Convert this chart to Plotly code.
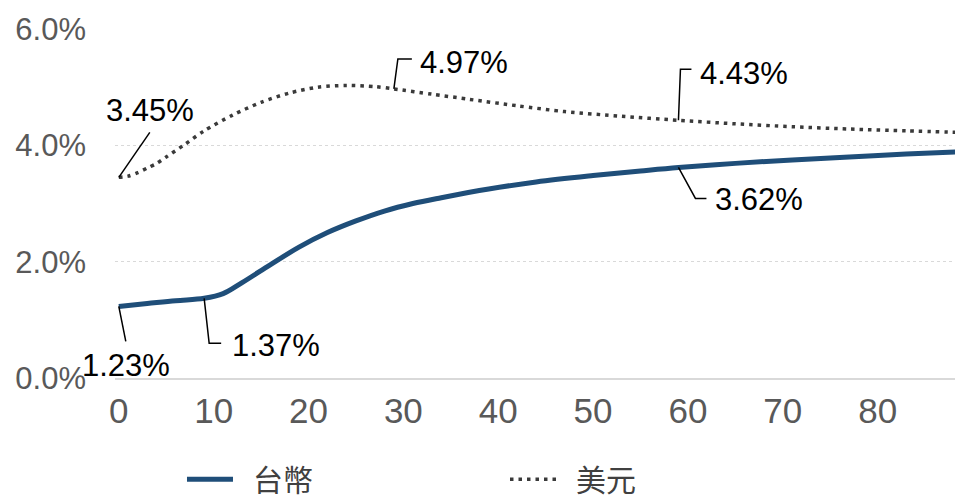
import plotly.graph_objects as go

# months / rates (%)
twd_x = [0, 3, 6, 9, 11, 13, 16, 19, 22, 25, 28, 31, 34, 39, 44, 50, 55, 59, 65, 71, 77, 83, 89]
twd_y = [1.23, 1.28, 1.33, 1.37, 1.45, 1.64, 1.95, 2.25, 2.50, 2.70, 2.87, 3.00, 3.10, 3.25,
         3.37, 3.48, 3.56, 3.62, 3.69, 3.75, 3.80, 3.85, 3.89]

usd_x = [0, 1, 2, 3, 4, 5, 7, 9, 12, 15, 18, 21, 24, 27, 29, 33, 37, 42, 47, 53, 59, 65, 71, 77, 83, 89]
usd_y = [3.45, 3.47, 3.53, 3.61, 3.69, 3.80, 4.02, 4.25, 4.52, 4.74, 4.90, 5.00, 5.03, 5.01, 4.97,
         4.88, 4.79, 4.68, 4.58, 4.50, 4.43, 4.37, 4.32, 4.28, 4.25, 4.22]

x_ticks = [0, 10, 20, 30, 40, 50, 60, 70, 80]
y_ticks = [0, 2, 4, 6]
y_ticktext = ["0.0%", "2.0%", "4.0%", "6.0%"]

FONT = "Arial, 'Liberation Sans', sans-serif"
CJK = "'Noto Sans CJK TC', 'Noto Sans CJK SC', sans-serif"

series = {"台幣": (twd_x, twd_y), "美元": (usd_x, usd_y)}

# (series, month, text offset ax/ay, leader path in px relative to point, y up)
labels = [
    ("美元", 0, 31, -67, "M0,0 L31,45"),
    ("美元", 29, 70, -26, "M0,0 L4,30 L18,30"),
    ("美元", 59, 66, -47, "M0,0 L2,51 L13,51"),
    ("台幣", 59, 81, 32, "M0,0 L17,-31 L28,-31"),
    ("台幣", 9, 72, 47, "M0,0 L5,-45 L17,-45"),
    ("台幣", 0, 7, 59, "M0,0 L7,-35"),
]

fig = go.Figure()

fig.add_trace(go.Scatter(
    x=twd_x, y=twd_y, name="\u2002台幣", mode="lines",
    line=dict(color="#1F4E79", width=5, shape="spline", smoothing=1.0)))

fig.add_trace(go.Scatter(
    x=usd_x, y=usd_y, name="\u2002美元", mode="lines",
    line=dict(color="#3a3a3a", width=3.5, dash="3.5px,5px", shape="spline", smoothing=0.8)))

anns = []
shapes = []
for s, m, ax, ay, path in labels:
    xs, ys = series[s]
    v = ys[xs.index(m)]
    anns.append(dict(
        x=m, y=v, xref="x", yref="y", text=f"{v:.2f}%",
        showarrow=True, arrowcolor="rgba(0,0,0,0)", ax=ax, ay=ay,
        font=dict(family=FONT, size=31, color="black")))
    shapes.append(dict(
        type="path", path=path, xref="x", yref="y",
        xsizemode="pixel", ysizemode="pixel", xanchor=m, yanchor=v,
        line=dict(color="black", width=1.5)))

# page body has an 8px margin, so the figure is a bit smaller than the window
fig.update_layout(
    width=955, height=491,
    margin=dict(l=107, r=0, t=21, b=121, autoexpand=False),
    plot_bgcolor="white", paper_bgcolor="white",
    showlegend=True,
    legend=dict(orientation="h", x=0.079, xanchor="left", y=-0.29, yanchor="middle",
                font=dict(family=CJK, size=30, color="#404040"),
                itemwidth=46, entrywidth=262, entrywidthmode="pixels"),
    annotations=anns, shapes=shapes,
)

fig.update_xaxes(
    range=[-0.4, 89], tickvals=x_ticks, showgrid=False, zeroline=False,
    showline=True, linecolor="#d9d9d9", linewidth=2, ticks="", automargin=False,
    tickfont=dict(family=FONT, size=35, color="#595959"), ticklabelstandoff=1)

fig.update_yaxes(
    range=[0, 6], tickvals=y_ticks, ticktext=y_ticktext, showgrid=True, automargin=False,
    gridcolor="#d9d9d9", griddash="dot", gridwidth=1, zeroline=False, ticks="",
    tickfont=dict(family=FONT, size=31, color="#595959"), ticklabelstandoff=28)

fig.write_html("out.html")
